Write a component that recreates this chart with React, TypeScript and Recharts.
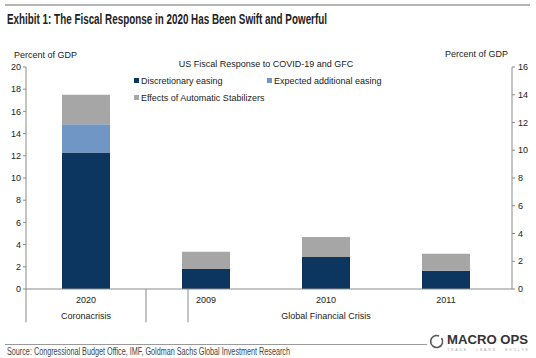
import React from 'react';
import { BarChart, Bar, XAxis, YAxis, Legend, ReferenceLine } from 'recharts';

const categories = ['2020', '2009', '2010', '2011'];
const groupLabels = [
  { label: 'Coronacrisis', from: 0, to: 0 },
  { label: 'Global Financial Crisis', from: 1, to: 3 },
];
const discretionary = [12.3, 1.8, 2.88, 1.65];
const expectedAdditional = [2.55, 0, 0, 0];
const automaticStabilizers = [2.65, 1.56, 1.8, 1.53];
const seriesNames = ['Discretionary easing', 'Expected additional easing', 'Effects of Automatic Stabilizers'];
const leftTicks = [0, 2, 4, 6, 8, 10, 12, 14, 16, 18, 20];
const rightTicks = [0, 2, 4, 6, 8, 10, 12, 14, 16];

const data = categories.map((c, i) => ({
  year: c,
  disc: discretionary[i],
  exp: expectedAdditional[i],
  auto: automaticStabilizers[i],
}));

const FONT = '"Liberation Sans", Arial, sans-serif';
const C_DARK = '#0c3560';
const C_LIGHT = '#7096c6';
const C_GRAY = '#a6a6a6';
const AXIS = '#8a8a8a';

const CategoryTick = (props: any) => {
  const { x, y, payload, index } = props;
  const grp = groupLabels.find((g) => Math.round((g.from + g.to) / 2) === index);
  return (
    <g>
      <text x={x} y={y} dy="0.72em" textAnchor="middle" fontSize={9} fontFamily={FONT} fill="#222">
        {payload.value}
      </text>
      {grp && (
        <text x={x} y={y + 16} dy="0.72em" textAnchor="middle" fontSize={9} fontFamily={FONT} fill="#222">
          {grp.label}
        </text>
      )}
    </g>
  );
};

const LegendContent = (props: any) => {
  const payload = [...(props.payload || [])].sort(
    (a: any, b: any) => seriesNames.indexOf(a.value) - seriesNames.indexOf(b.value)
  );
  return (
    <div style={{ width: 266, fontFamily: FONT, fontSize: 9, color: '#222' }}>
      <div style={{ textAlign: 'center', lineHeight: '11px', height: 11 }}>US Fiscal Response to COVID-19 and GFC</div>
      <div style={{ display: 'flex', flexWrap: 'wrap', marginTop: 2 }}>
        {payload.map((p: any) => (
          <div key={p.value} style={{ width: 133, height: 17, display: 'flex', alignItems: 'center' }}>
            <span style={{ width: 5, height: 5, background: p.color, marginLeft: 1, marginRight: 2, display: 'inline-block' }} />
            <span>{p.value}</span>
          </div>
        ))}
      </div>
    </div>
  );
};

export default function App() {
  return (
    <div style={{ position: 'absolute', left: 0, top: 0, width: 536, height: 358, background: '#fff', overflow: 'hidden' }}>
      <div style={{ position: 'absolute', left: 5, top: 4, width: 525, height: 2, background: '#b5b5b5' }} />
      <svg style={{ position: 'absolute', left: 0, top: 0 }} width={536} height={30}>
        <text
          x={7}
          y={24}
          fontFamily={FONT}
          fontWeight="bold"
          fontSize={14}
          fill="#222"
          textLength={320}
          lengthAdjust="spacingAndGlyphs"
        >
          Exhibit 1: The Fiscal Response in 2020 Has Been Swift and Powerful
        </text>
      </svg>
      <div style={{ position: 'absolute', left: 14, top: 50, fontFamily: FONT, fontSize: 9, color: '#222', lineHeight: '11px' }}>
        Percent of GDP
      </div>
      <div style={{ position: 'absolute', left: 445, top: 49, fontFamily: FONT, fontSize: 9, color: '#222', lineHeight: '11px' }}>
        Percent of GDP
      </div>
      <div style={{ position: 'absolute', left: 0, top: 0 }}>
        <BarChart
          width={536}
          height={358}
          data={data}
          margin={{ top: 67, right: 0, left: 0, bottom: 29 }}
          barCategoryGap="30%"
        >
          <XAxis
            xAxisId="main"
            dataKey="year"
            height={40}
            tickLine={false}
            tickSize={0}
            tickMargin={8}
            padding={{ left: 0, right: 6 }}
            axisLine={{ stroke: AXIS }}
            tick={<CategoryTick />}
            interval={0}
          />
          <XAxis xAxisId="sep" type="number" domain={[0, 1]} allowDataOverflow hide />
          <YAxis
            yAxisId="left"
            width={26}
            domain={[0, 20]}
            ticks={leftTicks}
            interval={0}
            tickSize={3}
            tickMargin={2}
            axisLine={{ stroke: AXIS }}
            tickLine={{ stroke: AXIS }}
            tick={{ fontSize: 9, fontFamily: FONT, fill: '#222' }}
          />
          <YAxis
            yAxisId="right"
            orientation="right"
            width={24}
            type="number"
            domain={[0, 16]}
            allowDataOverflow
            ticks={rightTicks}
            interval={0}
            tickSize={3}
            tickMargin={3}
            axisLine={{ stroke: AXIS }}
            tickLine={{ stroke: AXIS }}
            tick={{ fontSize: 9, fontFamily: FONT, fill: '#222' }}
          />
          <Legend
            verticalAlign="middle"
            align="center"
            layout="horizontal"
            wrapperStyle={{ top: 59, left: 133, width: 266 }}
            content={<LegendContent />}
          />
          <Bar xAxisId="main" yAxisId="left" dataKey="disc" stackId="a" name={seriesNames[0]} fill={C_DARK} isAnimationActive={false} />
          <Bar xAxisId="main" yAxisId="left" dataKey="exp" stackId="a" name={seriesNames[1]} fill={C_LIGHT} isAnimationActive={false} />
          <Bar xAxisId="main" yAxisId="left" dataKey="auto" stackId="a" name={seriesNames[2]} fill={C_GRAY} isAnimationActive={false} />
          <ReferenceLine
            xAxisId="sep"
            yAxisId="left"
            segment={[{ x: 0, y: 0 }, { x: 0, y: -3 }]}
            ifOverflow="visible"
            stroke={AXIS}
          />
          <ReferenceLine
            xAxisId="main"
            yAxisId="left"
            segment={[{ x: categories[0], y: 0 }, { x: categories[0], y: -3 }]}
            position="end"
            ifOverflow="visible"
            stroke={AXIS}
          />
          <ReferenceLine
            xAxisId="sep"
            yAxisId="right"
            segment={[{ x: 1, y: 0 }, { x: 1, y: -2.4 }]}
            ifOverflow="visible"
            stroke={AXIS}
          />
        </BarChart>
      </div>
      <div style={{ position: 'absolute', left: 5, top: 344, width: 422, height: 1, background: '#9a9a9a' }} />
      <svg style={{ position: 'absolute', left: 0, top: 345 }} width={425} height={13}>
        <text x={7} y={9.5} fontFamily={FONT} fontSize={10} fill="#444" textLength={283} lengthAdjust="spacingAndGlyphs">
          Source: Congressional Budget Office, IMF, Goldman Sachs Global Investment Research
        </text>
      </svg>
      <svg style={{ position: 'absolute', left: 428, top: 332 }} width={108} height={26}>
        <path d="M 11 4 A 6 6 0 1 0 13.5 6" fill="none" stroke="#555" strokeWidth={1.6} />
        <text x={19} y={11.5} fontFamily={FONT} fontWeight="bold" fontSize={12} fill="#333" textLength={81} lengthAdjust="spacingAndGlyphs">
          MACRO OPS
        </text>
        <text x={19} y={19} fontFamily={FONT} fontSize={3.6} fill="#aaa" textLength={81} lengthAdjust="spacing">
          TRADE  ·  LEARN  ·  EVOLVE
        </text>
      </svg>
    </div>
  );
}
